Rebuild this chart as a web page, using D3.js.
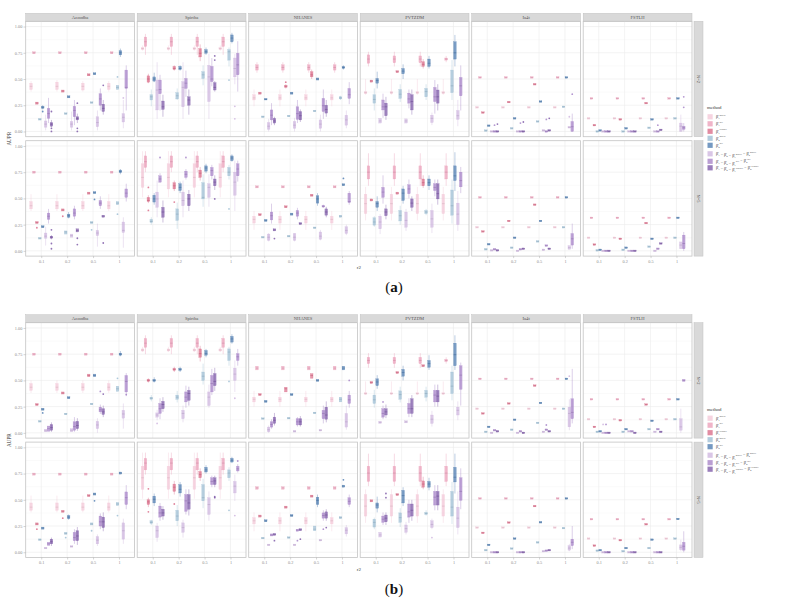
<!DOCTYPE html>
<html>
<head>
<meta charset="utf-8">
<script src="https://cdn.jsdelivr.net/npm/d3@7"></script>
<style>
  body { margin: 0; background: #fff; }
  svg { display: block; font-family: "Liberation Serif", "DejaVu Serif", serif; }
</style>
</head>
<body>
<div id="chart"></div>
<script>
var svgWidth = 793;
var svgHeight = 605;

// facet grid geometry
var plotLeft = 25.7;
var facetWidth = 108.8;
var facetStep = 111.5;
var rowHeight = 115.4;
var rowStep = 119.4;
var panelTops = [21.3, 322.7];
var stripHeight = 8;

var r2Levels = ["0.1", "0.2", "0.5", "1"];
var facetNames = ["Azoodha", "Spirtha", "NHANES", "PVTZDM", "Ia4t", "FSTLH"];
var rowNames = ["N=2", "N=5"];
var panelTags = ["a", "b"];
var yTicks = [0, 0.25, 0.5, 0.75, 1];
var yMinor = [0.125, 0.375, 0.625, 0.875];

var methodColors = ["#f2c2d3", "#e994b1", "#d65b7b", "#93b7cf", "#3b6ea8", "#c9aedb", "#9c75c1", "#6f479e"];
// [subscript, superscript] pieces joined by minus signs
var methodLabels = [
  [["1", "naive"]],
  [["1", "RF"]],
  [["1", "DRRF"]],
  [["2", "naive"]],
  [["2", "RF"]],
  [["1", ""], ["2", ""], ["1", "naive"], ["2", "naive"]],
  [["1", ""], ["2", ""], ["1", "RF"], ["2", "RF"]],
  [["1", ""], ["2", ""], ["1", "DRRF"], ["2", "DRRF"]]
];

// each box: number | [q1,med,q3] | [lo,q1,med,q3,hi], optional trailing [outliers]; null = no box
// ---- panel (a) ----
var aAzoodha1 = [
  [[.38,.40,.43,.46,.48], [.74,.75,.76], [.26,.27,.28], .116, [.21,.22,.23,.24,.25,[.19]], [.01,.04,.07,.10,.16], [.08,.125,.17,.22,.32], [.04,.05,.07,.085,.11,[.19,.03,0]]],
  [[.38,.40,.43,.47,.49], [.74,.75,.76], [.375,.385,.395], .17, [.32,.33,.34], [.01,.04,.07,.095,.19], [.06,.14,.20,.24,.30], [.08,.11,.125,.14,.17,[.27,.03,0]]],
  [[.38,.395,.43,.46,.48], [.74,.75,.76], [.53,.54,.55], .275, [.54,.55,.56], [.01,.045,.085,.14,.20], [.20,.25,.31,.36,.41], [.16,.19,.22,.26,.30,[.44]]],
  [[.38,.40,.43,.46,.48], [.74,.75,.76], null, [.40,.42,.44,[.52]], [.71,.73,.75,.77,.79], [.03,.09,.135,.17,.30,[.32]], [.20,.41,.42,.585,.63], null]
];
var aAzoodha2 = [
  [[.38,.40,.43,.47,.54], [.74,.75,.76], [.26,.27,.28,[.22]], .12, [.22,.23,.24], [.05,.12,.14,.17,.23], [.26,.30,.33,.36,.40], [.11,.12,.13,.14,.15,[.20,.07,.02]]],
  [[.38,.40,.43,.47,.54], [.74,.75,.76], [.38,.39,.40,[.33]], [.16,.18,.19], [.31,.32,.335,.35,.37], [.13,.145,.16], [.30,.33,.36,.40,.43], [.18,.195,.21,[.12,.06]]],
  [[.38,.40,.43,.47,.54], [.74,.75,.76], [.54,.55,.56], [.26,.27,.28,[.20]], [.545,.555,.565,[.49]], [.04,.145,.17,.195,.26], [.40,.43,.455,.48,.52], [.32,.33,.34,[.075]]],
  [[.38,.40,.43,.47,.54], [.74,.75,.76], null, [.44,.455,.47,[.35]], [.73,.745,.757,.77,.78], [.03,.175,.195,.275,.32], [.47,.51,.55,.59,.64], null]
];
var aSpirtha1 = [
  [[.77,.78,.79,.80,.82], [.73,.81,.855,.90,.93], [.46,.47,.50,.53,.55], [.24,.30,.33,.35,.40], [.47,.48,.50,.52,.56], [.12,.205,.395,.49,.66], [.20,.36,.40,.49,.54], [.14,.21,.235,.29,.35]],
  [[.77,.78,.79,.80,.82], [.73,.81,.855,.90,.93], [.58,.59,.60,.62,.63], [.30,.31,.34,.37,.41], [.58,.59,.60,.62,.63], [.12,.235,.42,.475,.66], [.33,.41,.46,.505,.58], [.16,.25,.30,.33,.40]],
  [[.77,.78,.79,.80,.82], [.73,.81,.855,.90,.93], [.67,.71,.745,.79,.83], [.44,.505,.54,.57,.63], [.73,.745,.76,.78,.80], [.12,.285,.52,.63,.74], [.43,.475,.50,.62,.70], [.38,.395,.42,.465,.48,[.72,.68]]],
  [[.77,.78,.79,.80,.82], [.73,.81,.855,.90,.93], null, [.62,.68,.76,.78,.80,[.49]], [.84,.855,.89,.92,.94], [.45,.52,.60,.70,.74,[.24,.12]], [.38,.54,.635,.745,.86], null]
];
var aSpirtha2 = [
  [[.51,.605,.70,.83,.95], [.75,.795,.85,.905,.95], [.455,.47,.48,.51,.53,[.605,.385]], [.25,.27,.28,.30,.32], [.44,.465,.495,.53,.55], [.32,.415,.495,.56,.67], [.65,.655,.685,.715,.74,[.89]], [.27,.32,.37,.415,.48]],
  [[.51,.59,.70,.83,.95], [.75,.795,.85,.905,.95], [.57,.59,.62,.65,.67,[.465]], [.21,.29,.35,.40,.46], [.55,.575,.605,.64,.66], [.32,.43,.48,.56,.67], [.68,.70,.73,.76,.78,[.89]], [.38,.43,.495,.54,.58]],
  [[.51,.605,.70,.83,.95], [.75,.795,.85,.905,.95], [.67,.70,.74,.77,.80], [.42,.495,.51,.65,.73], [.74,.76,.79,.81,.83], [.42,.51,.605,.64,.73], [.68,.715,.765,.795,.82], [.58,.62,.655,.685,.72,[.495]]],
  [[.51,.605,.70,.83,.95], [.75,.795,.85,.905,.95], null, [.68,.715,.75,.795,.82,[.40]], [.85,.86,.885,.905,.92], [.38,.53,.655,.75,.86], [.66,.715,.78,.83,.86], null]
];
var aNhanes1 = [
  [[.24,.30,.32,.35,.40], [.56,.585,.61,.635,.66], [.355,.365,.375], .14, [.30,.306,.315], [0,.02,.05,.085,.12], [.06,.11,.155,.205,.27], [.06,.08,.10,.125,.14]],
  [[.24,.30,.32,.35,.40], [.56,.585,.61,.635,.66], [.41,.42,.43,.44,.45,[.47]], .147, [.355,.365,.375], [0,.03,.06,.095,.13], [.08,.115,.17,.235,.30], [.09,.11,.15,.19,.21]],
  [[.24,.30,.32,.35,.40], [.56,.585,.61,.635,.66], [.50,.52,.54,.57,.59], .195, [.49,.50,.51], [0,.03,.07,.11,.16], [.12,.19,.245,.315,.40], [.14,.175,.21,.25,.30]],
  [[.24,.30,.32,.35,.40], [.56,.585,.61,.635,.66], null, [.30,.31,.32,.33,.34], [.59,.60,.61,.62,.63], [.03,.06,.11,.155,.20], [.26,.315,.35,.41,.47], null]
];
var aNhanes2 = [
  [[.20,.265,.30,.33,.38], [.60,.61,.62], [.335,.345,.355], .13, [.28,.29,.30], [.09,.10,.13,.16,.17], [.26,.295,.335,.37,.45], [.19,.20,.21,[.117]]],
  [[.20,.265,.30,.33,.38], [.60,.61,.62], [.41,.42,.43], .14, [.34,.35,.36], [.09,.10,.13,.165,.17], [.30,.33,.36,.385,.41], [.25,.26,.27]],
  [[.20,.265,.30,.33,.38], [.60,.61,.62], [.52,.53,.54], .22, [.43,.455,.495,.525,.55], [.10,.11,.14,.18,.20], [.41,.42,.425,.43,.44], [.32,.34,.37,.40,.42]],
  [[.20,.265,.30,.33,.38], [.60,.61,.62], null, [.32,.33,.34], [.62,.63,.64,[.69]], [.15,.165,.195,.23,.25], [.44,.46,.47,.55,.57], null]
];
var aPvtzdm1 = [
  [[.35,.36,.37,.38,.50], [.62,.65,.69,.73,.76], [.47,.48,.49], [.20,.27,.305,.35,.41], [.41,.46,.485,.505,.57], [.08,.10,.125], [.13,.205,.235,.30,.36], [.11,.15,.235,.27,.33]],
  [[.35,.36,.37,.38,.50], [.62,.655,.69,.72,.76], [.56,.57,.58], [.28,.315,.355,.40,.45], [.50,.55,.575,.60,.64], [.08,.10,.12], [.22,.27,.31,.365,.40], [.16,.205,.285,.35,.40]],
  [[.35,.36,.37,.38,.50], [.62,.655,.69,.72,.76], [.60,.62,.64,.665,.69], [.30,.33,.38,.41,.45], [.60,.62,.65,.69,.72], [.06,.085,.125,.155,.18], [.17,.285,.33,.42,.49], [.20,.27,.33,.395,.45]],
  [[.35,.36,.37,.38,.50], [.66,.68,.69,.70,.72], null, [.30,.37,.435,.585,.68], [.62,.69,.75,.855,.92], [.05,.115,.15,.20,.30], [.20,.34,.435,.515,.63], null]
];
var aPvtzdm2 = [
  [[.29,.355,.45,.54,.61], [.62,.685,.75,.81,.93], [.475,.485,.495], [.23,.245,.275,.315,.33], [.38,.415,.45,.47,.52], [.16,.21,.275,.33,.35], [.45,.51,.56,.605,.72], [.30,.335,.37,.40,.44]],
  [[.29,.355,.45,.54,.61], [.62,.685,.75,.81,.93], [.54,.55,.56], [.25,.285,.335,.385,.43], [.45,.48,.55,.59,.62], [.19,.225,.29,.37,.40], [.50,.545,.59,.63,.68], [.38,.415,.455,.495,.52]],
  [[.29,.355,.45,.54,.61], [.62,.685,.75,.81,.93], [.60,.62,.65,.685,.72], [.34,.355,.37,.385,.40], [.58,.62,.65,.685,.72], [.17,.225,.305,.385,.45], [.52,.575,.605,.64,.68], [.44,.495,.545,.64,.68]],
  [[.29,.355,.45,.54,.61], [.62,.685,.75,.81,.93], null, [.26,.34,.43,.58,.68], [.57,.67,.715,.81,.94], [.19,.25,.35,.455,.57], [.55,.61,.67,.75,.80], null]
];
var aIa4t1 = [
  [.23, .515, .18, .008, .055, 0, [0,[.06]], [0,[.07]]],
  [.23, .515, .28, .03, .125, 0, [0,[.08]], [0,[.09]]],
  [.23, .515, .45, .095, .285, .01, [0,[.115]], [.01,[.125]]],
  [.23, .515, null, .235, .515, [.04,[.14]], [0,0,.045,.095,.17,[.355]], null]
];
var aIa4t2 = [
  [.225, .51, .185, .015, .063, .005, .015, .005],
  [.225, .51, .285, .03, .125, 0, .015, .02],
  [.225, .51, .44, .09, .285, .01, .05, .02],
  [.225, .51, null, .225, .51, [.015,.03,.05], [.02,.055,.115,.165,.26], null]
];
var aFstlh1 = [
  [.125, .315, .06, 0, .01, 0, 0, 0],
  [.125, .315, .115, 0, .03, 0, 0, 0],
  [.125, .315, .27, .035, .115, 0, [0,[.06]], .015],
  [.125, .315, null, .125, .315, [0,0,.05,.08,.16], [0,.02,.035,.05,.08,[.23,.33]], null]
];
var aFstlh2 = [
  [.125, .315, .06, .005, .01, 0, 0, 0],
  [.125, .315, .115, .01, .03, 0, 0, 0],
  [.125, .315, .265, .04, .115, 0, .02, .07],
  [.125, .315, null, .125, .315, [.02,.055,.085], [0,.02,.07,.15,.18], null]
];

// ---- panel (b) ----
var bAzoodha1 = [
  [[.38,.405,.435,.47,.50], [.74,.75,.76], [.26,.27,.28], .11, [.215,.225,.235,[.19]], [.01,.02,.035], [.015,.04,.065], [.01,.025,.05,.08,.10]],
  [[.38,.405,.435,.47,.50], [.74,.75,.76], [.37,.38,.39], .18, [.325,.335,.345], [.01,.025,.04], [.01,.025,.06,.105,.15], [.02,.04,.07,.11,.14]],
  [[.38,.405,.435,.47,.50], [.74,.75,.76], [.535,.547,.56], .275, [.535,.547,.56], [0,.04,.075,.11,.14], [.18,.20,.22,.245,.27,[.395]], [.15,.175,.20,.23,.26,[.37]]],
  [[.38,.405,.435,.47,.50], [.74,.75,.76], null, [.395,.42,.445,[.52]], [.73,.74,.75,.76,.78], [.04,.14,.18,.215,.28], [.35,.39,.49,.547,.57,[.365]], null]
];
var bAzoodha2 = [
  [[.38,.40,.43,.47,.54], [.735,.745,.755], [.26,.27,.28,[.22]], .12, [.22,.23,.24], .04, [.065,.08,.095], [.06,.08,.10,.125,.14]],
  [[.38,.40,.43,.47,.54], [.735,.745,.755], [.38,.39,.40,[.325]], [.17,.18,.19,[.14]], [.31,.32,.335,.35,.36], .055, [.08,.11,.14,.19,.22], [.07,.11,.155,.205,.24]],
  [[.38,.40,.43,.47,.54], [.735,.745,.755], [.53,.54,.55], [.26,.27,.28,[.205]], [.545,.555,.565,[.49]], [.06,.08,.115,.15,.17], [.22,.25,.29,.345,.37], [.20,.235,.29,.335,.38]],
  [[.38,.40,.43,.47,.54], [.735,.745,.755], null, [.445,.46,.475,[.35]], [.745,.755,.765], [.08,.125,.205,.28,.32], [.41,.455,.52,.575,.64], null]
];
var bSpirtha1 = [
  [[.77,.78,.79,.80,.82], [.75,.815,.855,.90,.93], [.48,.49,.50,.51,.52], [.30,.32,.33,.34,.36], [.48,.49,.50,.51,.53], [.12,.15,.17,.19,.22,[.09]], [.13,.185,.23,.28,.33], [.20,.23,.27,.30,.34]],
  [[.77,.78,.79,.80,.82], [.75,.815,.855,.90,.93], [.58,.595,.605,.615,.63], [.29,.32,.34,.36,.40], [.58,.595,.605,.615,.63], [.10,.135,.185,.215,.26], [.24,.295,.34,.39,.45], [.26,.31,.375,.405,.44]],
  [[.77,.78,.79,.80,.82], [.75,.815,.855,.90,.93], [.68,.72,.755,.80,.83], [.46,.50,.54,.58,.66], [.72,.74,.755,.785,.80], [.24,.26,.34,.39,.46], [.36,.39,.47,.547,.61], [.40,.45,.49,.565,.62]],
  [[.77,.78,.79,.80,.82], [.75,.815,.855,.90,.93], null, [.64,.69,.77,.80,.82,[.49]], [.85,.865,.895,.92,.94], [.39,.50,.56,.617,.69,[.33]], [.64,.69,.725,.755,.80], null]
];
var bSpirtha2 = [
  [[.51,.60,.71,.82,.95], [.74,.785,.85,.895,.95], [.43,.455,.48,.50,.52,[.605,.385]], [.26,.275,.285,.30,.31], [.44,.47,.505,.535,.56], [.10,.14,.205,.25,.28], [.30,.335,.375,.44,.47], [.31,.345,.375,.41,.44]],
  [[.51,.60,.71,.82,.95], [.74,.785,.85,.895,.95], [.55,.58,.62,.65,.68,[.46]], [.25,.30,.345,.40,.45], [.53,.565,.60,.645,.67], [.14,.19,.235,.28,.31], [.36,.39,.49,.55,.60], [.35,.41,.47,.55,.60]],
  [[.51,.60,.71,.82,.95], [.74,.785,.85,.895,.95], [.68,.71,.74,.77,.80], [.42,.49,.52,.645,.70], [.75,.765,.785,.81,.83], [.30,.36,.455,.52,.58], [.62,.645,.675,.71,.73], [.62,.645,.68,.71,.73,[.53,.52]]],
  [[.51,.60,.71,.82,.95], [.74,.785,.85,.895,.95], null, [.68,.71,.755,.785,.81,[.40]], [.85,.86,.877,.895,.91], [.49,.565,.63,.675,.74,[.35]], [.76,.775,.795,.82,.84,[.87]], null]
];
var bNhanes1 = [
  [[.25,.295,.32,.34,.40], [.60,.617,.635], [.355,.365,.375], .136, [.29,.30,.31], [0,.01,.03,.055,.07], [.04,.055,.08,.105,.13], [.07,.09,.12,.15,.19]],
  [[.25,.295,.32,.34,.40], [.60,.617,.635], [.39,.42,.435], .14, [.355,.365,.375], .015, [.06,.075,.105,.135,.15], [.06,.075,.105,.135,.16]],
  [[.25,.295,.32,.34,.40], [.60,.617,.635], [.52,.547,.565], .19, [.49,.50,.51], .025, [.09,.135,.185,.215,.26], [.10,.13,.17,.245,.30]],
  [[.25,.295,.32,.34,.40], [.60,.617,.635], null, [.295,.32,.34], [.60,.617,.635], [.03,.055,.105,.185,.26], [.24,.28,.315,.36,.40,[.50]], null]
];
var bNhanes2 = [
  [[.20,.27,.30,.33,.38], [.60,.613,.625], [.335,.345,.355], .135, [.29,.30,.31], .07, [.155,.165,.175], [.16,.17,.18,[.11]]],
  [[.20,.27,.30,.33,.38], [.60,.613,.625], [.42,.43,.44], .14, [.34,.35,.36], .07, [.20,.21,.22,[.11]], [.205,.215,.225,[.125]]],
  [[.20,.27,.30,.33,.38], [.60,.613,.625], [.525,.535,.545], [.205,.22,.25], [.43,.455,.495,.525,.55], .115, [.30,.325,.35,.375,.40,[.22]], [.30,.325,.355,.385,.41,[.235]]],
  [[.20,.27,.30,.33,.38], [.60,.613,.625], null, [.32,.33,.34], [.62,.63,.64,[.69]], [.15,.175,.21,.235,.26], [.43,.455,.485,.52,.55], null]
];
var bPvtzdm1 = [
  [[.36,.37,.375,.38,.49], [.62,.66,.69,.72,.76], [.47,.48,.49], [.24,.28,.315,.36,.41], [.42,.45,.485,.515,.55], [.09,.10,.11], [.13,.15,.185,.23,.26,[.295]], [.14,.17,.20,.23,.27]],
  [[.36,.37,.375,.38,.49], [.62,.66,.69,.72,.76], [.565,.575,.585], [.29,.32,.365,.40,.44], [.50,.54,.575,.605,.64], [.095,.105,.115], [.15,.185,.23,.28,.33], [.15,.185,.23,.325,.36]],
  [[.36,.37,.375,.38,.49], [.62,.66,.69,.72,.76], [.63,.64,.65], [.30,.34,.375,.405,.44], [.60,.625,.66,.69,.74], [.06,.09,.13,.17,.21], [.25,.295,.36,.405,.46], [.25,.295,.35,.405,.46]],
  [[.36,.37,.375,.38,.49], [.66,.68,.69,.70,.72], null, [.31,.375,.445,.58,.64], [.60,.64,.745,.855,.93], [.12,.17,.215,.245,.30], [.26,.415,.55,.64,.67], null]
];
var bPvtzdm2 = [
  [[.28,.345,.44,.55,.60], [.63,.675,.755,.82,.94], [.48,.49,.50], [.22,.24,.285,.315,.33], [.38,.42,.45,.47,.53], [.145,.165,.19], [.26,.285,.315,.345,.38], [.26,.29,.325,.355,.38,[.56,.52]]],
  [[.28,.345,.44,.55,.60], [.63,.675,.755,.82,.94], [.54,.55,.56], [.24,.285,.33,.375,.42], [.44,.47,.54,.59,.62], [.17,.19,.225,.26,.29], [.28,.335,.385,.46,.50], [.30,.345,.40,.46,.50]],
  [[.28,.345,.44,.55,.60], [.63,.675,.755,.82,.94], [.60,.62,.65,.68,.72], [.35,.36,.37,.38,.40], [.59,.62,.65,.675,.71], [.22,.235,.265,.30,.32,[.14]], [.40,.45,.525,.58,.64], [.40,.45,.535,.58,.64]],
  [[.28,.345,.44,.55,.60], [.63,.675,.755,.82,.94], null, [.27,.345,.43,.58,.67], [.56,.67,.715,.81,.94], [.17,.235,.325,.43,.58], [.41,.495,.58,.71,.80], null]
];
var bIa4t1 = [
  [.23, .515, .185, .01, .057, 0, .025, .015],
  [.23, .515, .28, .03, .125, 0, .015, 0],
  [.23, .515, .45, .095, .285, .01, [.03,[.075]], .015],
  [.23, .515, null, .23, .515, [.025,.057,.185,.245,.32,[.54]], [.09,.135,.195,.325,.61], null]
];
var bIa4t2 = [
  [.235, .513, .185, .02, .07, 0, 0, 0],
  [.235, .513, .283, .035, .13, 0, 0, 0],
  [.235, .513, .44, .094, .286, .01, .015, .02],
  [.235, .513, null, .23, .513, [.01,.02,.04,.063,.08], [.03,.063,.095,.125,.25], null]
];
var bFstlh1 = [
  [.13, .32, .057, .01, .015, [0,[.08]], [0,[.08]], 0],
  [.13, .32, .12, .01, .035, .015, .015, 0],
  [.13, .32, .27, .035, .115, .01, .035, .01],
  [.13, .32, null, .13, .32, [0,.025,.057,.135,.23], [.49,.50,.51], null]
];
var bFstlh2 = [
  [.13, .315, .063, .015, .02, 0, 0, 0],
  [.13, .315, .115, .01, .04, 0, 0, 0],
  [.13, .315, .267, .04, .12, 0, 0, 0],
  [.13, .315, null, .13, .317, [.01,.025,.047,.07,.12], [0,.02,.057,.095,.20], null]
];

// table indexed [panel][facet][row]
var panelData = [
  [[aAzoodha1, aAzoodha2], [aSpirtha1, aSpirtha2], [aNhanes1, aNhanes2], [aPvtzdm1, aPvtzdm2], [aIa4t1, aIa4t2], [aFstlh1, aFstlh2]],
  [[bAzoodha1, bAzoodha2], [bSpirtha1, bSpirtha2], [bNhanes1, bNhanes2], [bPvtzdm1, bPvtzdm2], [bIa4t1, bIa4t2], [bFstlh1, bFstlh2]]
];

// turn a compact entry into box stats
function parseBox(e) {
  if (e === null) return null;
  if (typeof e === "number") return {lo: e, q1: e, med: e, q3: e, hi: e, out: []};
  var a = e.slice(), out = [];
  if (Array.isArray(a[a.length - 1])) out = a.pop();
  if (a.length === 1) return {lo: a[0], q1: a[0], med: a[0], q3: a[0], hi: a[0], out: out};
  if (a.length === 3) return {lo: a[0], q1: a[0], med: a[1], q3: a[2], hi: a[2], out: out};
  return {lo: a[0], q1: a[1], med: a[2], q3: a[3], hi: a[4], out: out};
}

var svg = d3.select("#chart")
  .append("svg")
  .attr("width", svgWidth)
  .attr("height", svgHeight);

var xScale = d3.scalePoint()
  .domain(r2Levels)
  .range([0, facetWidth])
  .padding(0.6);

var dodge = d3.scaleBand()
  .domain(d3.range(methodColors.length))
  .range([-0.45 * xScale.step(), 0.45 * xScale.step()]);

var boxW = dodge.bandwidth() * 0.92;

panelData.forEach(function(facets, p) {
  var top = panelTops[p];
  var g = svg.append("g");

  facets.forEach(function(rows, f) {
    var fx = plotLeft + f * facetStep;

    // facet strip
    g.append("rect")
      .attr("x", fx).attr("y", top - stripHeight)
      .attr("width", facetWidth).attr("height", stripHeight)
      .attr("fill", "#d9d9d9").attr("stroke", "#c2c2c2").attr("stroke-width", 0.5);
    g.append("text")
      .attr("x", fx + facetWidth / 2).attr("y", top - stripHeight / 2 + 1.5)
      .attr("text-anchor", "middle")
      .attr("font-size", 4.6).attr("fill", "#555")
      .text(facetNames[f]);

    rows.forEach(function(groups, r) {
      var ry = top + r * rowStep;
      var y = d3.scaleLinear().domain([-0.05, 1.05]).range([ry + rowHeight, ry]);
      var cell = g.append("g").attr("transform", "translate(" + fx + ",0)");

      // grid
      cell.selectAll(".minor").data(yMinor).enter().append("line")
        .attr("x1", 0).attr("x2", facetWidth)
        .attr("y1", d => y(d)).attr("y2", d => y(d))
        .attr("stroke", "#f3f3f3").attr("stroke-width", 0.4);
      cell.selectAll(".major").data(yTicks).enter().append("line")
        .attr("x1", 0).attr("x2", facetWidth)
        .attr("y1", d => y(d)).attr("y2", d => y(d))
        .attr("stroke", "#ebebeb").attr("stroke-width", 0.6);
      cell.selectAll(".vgrid").data(r2Levels).enter().append("line")
        .attr("x1", d => xScale(d)).attr("x2", d => xScale(d))
        .attr("y1", ry).attr("y2", ry + rowHeight)
        .attr("stroke", "#ebebeb").attr("stroke-width", 0.6);

      // boxes
      groups.forEach(function(entries, gi) {
        var cx = xScale(r2Levels[gi]);
        entries.forEach(function(e, m) {
          var b = parseBox(e);
          if (!b) return;
          var bx = cx + dodge(m) + dodge.bandwidth() / 2;
          var col = methodColors[m];
          var dark = d3.color(col).darker(0.45);
          var bg = cell.append("g");
          if (b.hi > b.q3 || b.lo < b.q1) {
            bg.append("line")
              .attr("x1", bx).attr("x2", bx)
              .attr("y1", y(b.hi)).attr("y2", y(b.lo))
              .attr("stroke", col).attr("stroke-width", 0.5).attr("stroke-opacity", 0.7);
          }
          var y1 = y(b.q3), y2 = y(b.q1);
          var h = Math.max(y2 - y1, 1.6);
          var mid = (y1 + y2) / 2;
          bg.append("rect")
            .attr("x", bx - boxW / 2).attr("y", mid - h / 2)
            .attr("width", boxW).attr("height", h)
            .attr("fill", col).attr("fill-opacity", 0.62)
            .attr("stroke", col).attr("stroke-opacity", 0.7).attr("stroke-width", 0.3);
          bg.append("line")
            .attr("x1", bx - boxW / 2).attr("x2", bx + boxW / 2)
            .attr("y1", y(b.med)).attr("y2", y(b.med))
            .attr("stroke", dark).attr("stroke-opacity", 0.85).attr("stroke-width", 0.5);
          bg.selectAll("circle").data(b.out).enter().append("circle")
            .attr("cx", bx).attr("cy", d => y(d)).attr("r", 0.9)
            .attr("fill", col).attr("fill-opacity", 0.75);
        });
      });

      // panel border
      cell.append("rect")
        .attr("x", 0).attr("y", ry)
        .attr("width", facetWidth).attr("height", rowHeight)
        .attr("fill", "none").attr("stroke", "#c4c4c4").attr("stroke-width", 0.8);

      // y axis on first column
      if (f === 0) {
        var ax = g.append("g")
          .attr("transform", "translate(" + plotLeft + ",0)")
          .call(d3.axisLeft(y).tickValues(yTicks).tickFormat(d3.format(".2f")).tickSize(2.2).tickPadding(1.2));
        ax.select(".domain").remove();
        ax.selectAll("line").attr("stroke", "#aaa").attr("stroke-width", 0.5);
        ax.selectAll("text").attr("font-size", 4.3).attr("fill", "#8c8c8c")
          .attr("font-family", "Liberation Serif, serif");
      }

      // x axis on bottom row
      if (r === rows.length - 1) {
        var xa = g.append("g")
          .attr("transform", "translate(" + fx + "," + (ry + rowHeight) + ")")
          .call(d3.axisBottom(xScale).tickSize(2).tickPadding(1.5));
        xa.select(".domain").remove();
        xa.selectAll("line").attr("stroke", "#aaa").attr("stroke-width", 0.5);
        xa.selectAll("text").attr("font-size", 4.3).attr("fill", "#8c8c8c")
          .attr("font-family", "Liberation Serif, serif");
      }

      // row strip on the right
      if (f === facets.length - 1) {
        var sx = fx + facetWidth + 2;
        g.append("rect")
          .attr("x", sx).attr("y", ry)
          .attr("width", 9).attr("height", rowHeight)
          .attr("fill", "#d9d9d9").attr("stroke", "#c2c2c2").attr("stroke-width", 0.5);
        g.append("text")
          .attr("transform", "translate(" + (sx + 3) + "," + (ry + rowHeight / 2) + ") rotate(90)")
          .attr("text-anchor", "middle")
          .attr("font-size", 4.4).attr("fill", "#555")
          .text(rowNames[r]);
      }
    });
  });

  // axis titles
  var mid = top + (rowStep + rowHeight) / 2;
  g.append("text")
    .attr("transform", "translate(11," + mid + ") rotate(-90)")
    .attr("text-anchor", "middle")
    .attr("font-size", 5.2).attr("fill", "#333")
    .text("AUPR");
  g.append("text")
    .attr("x", plotLeft + (5 * facetStep + facetWidth) / 2)
    .attr("y", top + rowStep + rowHeight + 13)
    .attr("text-anchor", "middle")
    .attr("font-size", 5).attr("fill", "#333")
    .text("r2");

  // legend
  var lg = g.append("g").attr("transform", "translate(707," + (top + 86.5) + ")");
  lg.append("text")
    .attr("x", 0).attr("y", 1.6)
    .attr("font-size", 4.8).attr("fill", "#333")
    .text("method");
  var keyOffsets = [0, 7, 14.5, 21.5, 28.5, 37, 44.5, 51];
  methodLabels.forEach(function(parts, m) {
    var ky = 9 + keyOffsets[m];
    lg.append("rect")
      .attr("x", 0.5).attr("y", ky - 2.6)
      .attr("width", 5.2).attr("height", 5.2)
      .attr("fill", methodColors[m]).attr("fill-opacity", 0.7);
    var t = lg.append("text")
      .attr("x", 9).attr("y", ky + 1.4)
      .attr("font-size", 4.2).attr("fill", "#444");
    parts.forEach(function(pt, i) {
      if (i > 0) t.append("tspan").text(" \u2212 ");
      t.append("tspan").text("\u03b2\u0302");
      t.append("tspan").attr("font-size", 2.9).attr("dy", 1).text(pt[0]);
      if (pt[1]) {
        t.append("tspan").attr("font-size", 2.9).attr("dy", -3.2).text(pt[1]);
        t.append("tspan").attr("dy", 2.2).text("");
      } else {
        t.append("tspan").attr("dy", -1).text("");
      }
    });
  });

  // panel tag
  var tag = g.append("text")
    .attr("x", 394).attr("y", top + 2 * rowStep + 32)
    .attr("text-anchor", "middle")
    .attr("font-size", 15).attr("fill", "#111");
  tag.append("tspan").text("(");
  tag.append("tspan").attr("font-weight", "bold").text(panelTags[p]);
  tag.append("tspan").text(")");
});
</script>
</body>
</html>
